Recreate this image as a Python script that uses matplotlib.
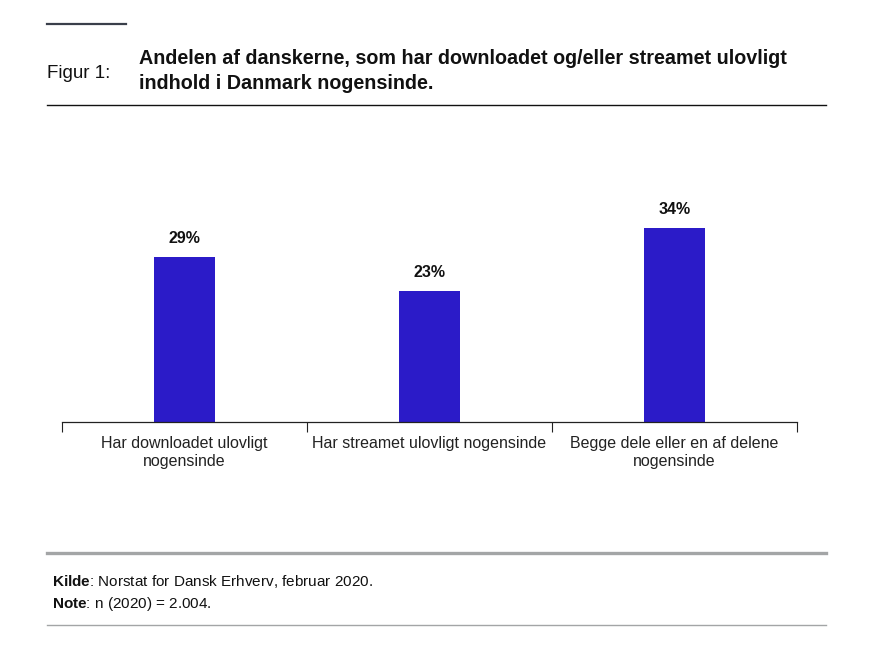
import matplotlib
matplotlib.use("Agg")
import matplotlib.pyplot as plt
from matplotlib.lines import Line2D

plt.rcParams['mathtext.fontset'] = 'custom'
plt.rcParams['mathtext.rm'] = 'Liberation Sans'
plt.rcParams['mathtext.bf'] = 'Liberation Sans:bold'

categories = ["Har downloadet ulovligt\nnogensinde",
              "Har streamet ulovligt nogensinde",
              "Begge dele eller en af delene\nnogensinde"]
values = [29, 23, 34]
value_labels = ["29%", "23%", "34%"]

NARROW = ['Liberation Sans Narrow', 'Liberation Sans', 'DejaVu Sans']
BOLD = ['Liberation Sans', 'DejaVu Sans']
BAR = '#2B1BC8'

fig = plt.figure(figsize=(8.82, 6.46), dpi=100)
W, H = 882, 646

def fx(x):
    return x / W

def fy(y):
    return 1 - y / H

# decorative lines
fig.add_artist(Line2D([fx(47), fx(126)], [fy(24), fy(24)], color='#3a3f4a', lw=1.6))
fig.add_artist(Line2D([fx(47), fx(826)], [fy(105), fy(105)], color='#111111', lw=1.0))
fig.add_artist(Line2D([fx(47), fx(826)], [fy(553), fy(553)], color='#a3a5a6', lw=2.4))
fig.add_artist(Line2D([fx(47), fx(826)], [fy(625), fy(625)], color='#a3a5a6', lw=1.0))

fig.text(fx(47), fy(73), "Figur 1:", family=NARROW, fontsize=13.5, color='#111111', va='center', ha='left')
fig.text(fx(139), fy(71), "Andelen af danskerne, som har downloadet og/eller streamet ulovligt\nindhold i Danmark nogensinde.",
         family=BOLD, fontweight='bold', fontsize=14.2, color='#111111', va='center', ha='left', linespacing=1.42)

fig.text(fx(52), fy(581), r"$\bf{Kilde}$: Norstat for Dansk Erhverv, februar 2020.", family=NARROW, fontsize=11, color='#111111', va='center')
fig.text(fx(52), fy(604), r"$\bf{Note}$: n (2020) = 2.004.", family=NARROW, fontsize=11, color='#111111', va='center')

ax = fig.add_axes([fx(62), fy(422), (797 - 62) / W, (422 - 137) / H])
x = list(range(len(categories)))
ax.bar(x, values, width=0.25, color=BAR)
for xi, v, lab in zip(x, values, value_labels):
    ax.annotate(lab, (xi, v), xytext=(0, 8), textcoords='offset points', ha='center', va='bottom',
                fontsize=11.5, fontweight='bold', family=BOLD, color='#111111')
ax.set_xlim(-0.5, 2.5)
ax.set_ylim(0, 50)
for s in ['top', 'right', 'left']:
    ax.spines[s].set_visible(False)
ax.spines['bottom'].set_color('#222222')
ax.spines['bottom'].set_linewidth(0.9)
ax.set_yticks([])
ax.set_xticks(x)
ax.set_xticklabels(categories, family=NARROW, fontsize=11.5, color='#222222', linespacing=1.3)
ax.tick_params(axis='x', which='major', length=0, pad=10)
ax.set_xticks([-0.5, 0.5, 1.5, 2.5], minor=True)
ax.tick_params(axis='x', which='minor', length=7, width=0.8, color='#222222')

fig.savefig("out.png", dpi=100)
